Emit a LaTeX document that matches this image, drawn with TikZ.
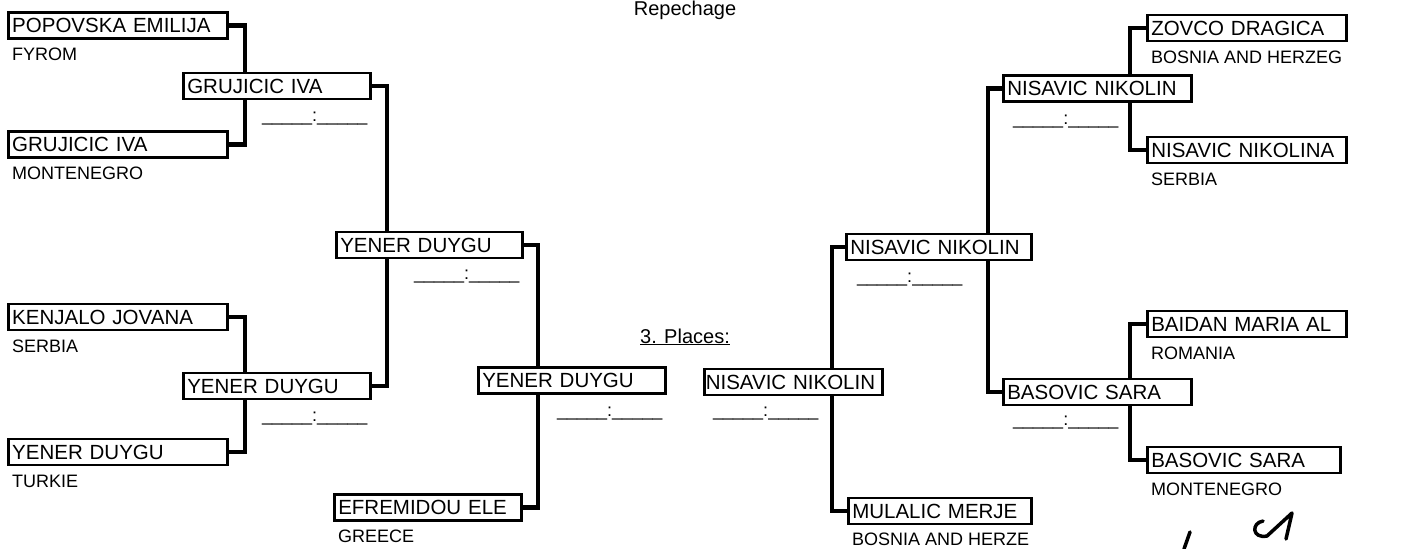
\documentclass[tikz,border=0pt]{standalone}
\usepackage{fontspec}
\setmainfont{Liberation Sans}
\usetikzlibrary{positioning,backgrounds}

\newcommand\nmfont{\fontsize{20.5}{24}\selectfont}
\newcommand\ctryfont{\fontsize{18}{21}\selectfont}

\begin{document}
\begin{tikzpicture}[
  x=1pt, y=-1pt,
  box/.style={draw, line width=2.5pt, fill=white, anchor=west, font=\nmfont, text width=#1, align=left,
    inner xsep=4pt, inner ysep=0pt, text height=14.7pt, text depth=0pt, minimum height=26pt},
  ctry/.style={font=\ctryfont, inner sep=0pt, text height=12.9pt, text depth=0pt},
  score/.style={font=\ctryfont, inner sep=0pt, text height=0pt, text depth=0pt},
  title/.style={font=\fontsize{20}{24}\selectfont, anchor=base, inner sep=0pt},
  conn/.style={line width=4.5pt},
  ink/.style={line width=3.5pt, line cap=round, line join=round}
]
\useasboundingbox (0,0) rectangle (1401,549);

\node[title] (rep) at (685,15.5) {Repechage};
\node[title] (pl) at (685,343) {\underline{3. Places:}};

% left half
\node[box=211pt] (e1) at (7,25.5) {POPOVSKA EMILIJA};
\node[box=211pt] (e2) at (7,144.5) {GRUJICIC IVA};
\node[box=211pt] (e3) at (7,317) {KENJALO JOVANA};
\node[box=211pt] (e4) at (7,452) {YENER DUYGU};
\node[box=179pt] (r2a) at (182,86) {GRUJICIC IVA};
\node[box=179pt] (r2b) at (182,386) {YENER DUYGU};
\node[box=178pt] (r3a) at (335,245) {YENER DUYGU};
\node[box=179pt] (efr) at (333,507.5) {EFREMIDOU ELE};
\node[box=179pt] (r4a) at (477,380.5) {YENER DUYGU};

\node[ctry, below right=8pt and 5pt of e1.south west] (c1) {FYROM};
\node[ctry, below right=8pt and 5pt of e2.south west] (c2) {MONTENEGRO};
\node[ctry, below right=8pt and 5pt of e3.south west] (c3) {SERBIA};
\node[ctry, below right=8pt and 5pt of e4.south west] (c4) {TURKIE};
\node[ctry, below right=8pt and 5pt of efr.south west] (c9) {GREECE};

\node[score, below left=21pt and 4pt of r2a.south east] (s2a) {\_\_\_\_\_:\_\_\_\_\_};
\node[score, below left=21pt and 4pt of r2b.south east] (s2b) {\_\_\_\_\_:\_\_\_\_\_};
\node[score, below left=20pt and 4pt of r3a.south east] (s3a) {\_\_\_\_\_:\_\_\_\_\_};
\node[score, below left=21pt and 4pt of r4a.south east] (s4a) {\_\_\_\_\_:\_\_\_\_\_};

% right half
\node[box=191pt] (e5) at (1146,28) {ZOVCO DRAGICA};
\node[box=191pt] (e6) at (1146,150) {NISAVIC NIKOLINA};
\node[box=191pt] (e7) at (1146,324) {BAIDAN MARIA AL};
\node[box=185pt] (e8) at (1146,460) {BASOVIC SARA};
\node[box=180pt] (r2c) at (1002,88.5) {NISAVIC NIKOLIN};
\node[box=180pt] (r2d) at (1002,392) {BASOVIC SARA};
\node[box=177pt] (r3b) at (845,247) {NISAVIC NIKOLIN};
\node[box=175pt] (mul) at (847,511) {MULALIC MERJE};
\node[box=175pt, inner xsep=1.5pt] (r4b) at (703,382) {NISAVIC NIKOLIN};

\node[ctry, below right=8pt and 5pt of e5.south west] (c5) {BOSNIA AND HERZEG};
\node[ctry, below right=8pt and 5pt of e6.south west] (c6) {SERBIA};
\node[ctry, below right=8pt and 5pt of e7.south west] (c7) {ROMANIA};
\node[ctry, below right=8pt and 5pt of e8.south west] (c8) {MONTENEGRO};
\node[ctry, below right=7pt and 5pt of mul.south west] (c10) {BOSNIA AND HERZE};

\node[score, below right=21pt and 11pt of r2c.south west] (s2c) {\_\_\_\_\_:\_\_\_\_\_};
\node[score, below right=19pt and 11pt of r2d.south west] (s2d) {\_\_\_\_\_:\_\_\_\_\_};
\node[score, below right=21pt and 12pt of r3b.south west] (s3b) {\_\_\_\_\_:\_\_\_\_\_};
\node[score, below right=20pt and 10pt of r4b.south west] (s4b) {\_\_\_\_\_:\_\_\_\_\_};

\coordinate (j1) at (245,86);
\coordinate (j2) at (245,386);
\coordinate (j3) at (387,245);
\coordinate (j4) at (538,380);
\coordinate (j5) at (1130,88);
\coordinate (j6) at (1130,392);
\coordinate (j7) at (988,247);
\coordinate (j8) at (832,382);

\begin{scope}[on background layer]
\draw[conn] (e1.east) -| (j1) |- (e2.east);
\draw[conn] (e3.east) -| (j2) |- (e4.east);
\draw[conn] (r2a.east) -| (j3) |- (r2b.east);
\draw[conn] (r3a.east) -| (j4) |- (efr.east);
\draw[conn] (e5.west) -| (j5) |- (e6.west);
\draw[conn] (e7.west) -| (j6) |- (e8.west);
\draw[conn] (r2c.west) -| (j7) |- (r2d.west);
\draw[conn] (r3b.west) -| (j8) |- (mul.west);
\end{scope}

% pen marks
\draw[ink] (1263,521) .. controls (1251,523) and (1252,539) .. (1267,536) -- (1292,513) -- (1286,539);
\draw[ink] (1190,532) -- (1184,549);
\end{tikzpicture}
\end{document}
